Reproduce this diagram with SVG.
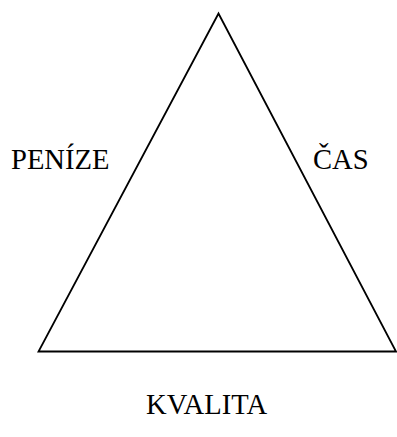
<svg xmlns="http://www.w3.org/2000/svg" width="397" height="437" viewBox="0 0 397 437">
<style>
text{font-family:"Liberation Serif","Times New Roman",serif;font-size:28.6px;fill:#000}
.edge{fill:none;stroke:#000;stroke-width:1.8;stroke-linejoin:miter}
</style>
<rect width="397" height="437" fill="#fff"/>
<g id="connectors">
<polygon class="edge" points="218.5,13.5 396,351.5 38.5,351.5"/>
</g>
<g id="node-penize"><text x="11" y="169">PENÍZE</text></g>
<g id="node-cas"><text x="313" y="169">ČAS</text></g>
<g id="node-kvalita"><text x="146" y="414">KVALITA</text></g>
</svg>
